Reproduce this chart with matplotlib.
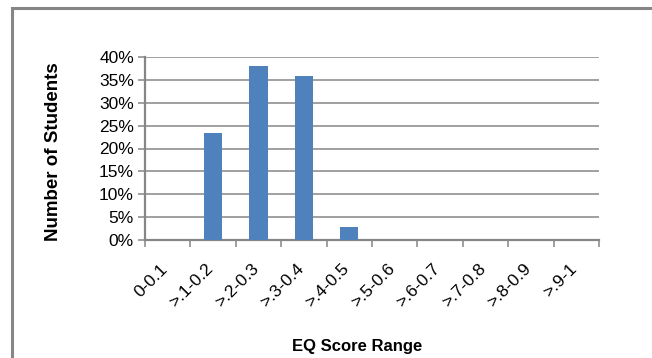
import numpy as np
import matplotlib.pyplot as plt
from matplotlib.patches import Rectangle
from matplotlib.ticker import FixedLocator, PercentFormatter

# EQ score distribution (share of students per range)
ranges = ["0-0.1", ">.1-0.2", ">.2-0.3", ">.3-0.4", ">.4-0.5",
          ">.5-0.6", ">.6-0.7", ">.7-0.8", ">.8-0.9", ">.9-1"]
shares = [0.0, 23.4, 38.0, 35.8, 2.8, 0.0, 0.0, 0.0, 0.0, 0.0]

plt.rcParams['font.family'] = ['Liberation Sans', 'DejaVu Sans']
grey = '#868686'
bar_color = '#4F81BD'

W, H = 652, 358
fig = plt.figure(figsize=(W / 100, H / 100), dpi=100)

# chart-area frame
fig.patches.append(Rectangle((12 / W, -0.1), 1.2, (H - 8) / H + 0.1,
                             transform=fig.transFigure, fill=False,
                             edgecolor=grey, linewidth=2.2))

ax = fig.add_axes([145 / W, 1 - 240 / H, (599 - 145) / W, (240 - 57) / H])
x = np.arange(len(ranges))
ax.bar(x, shares, width=0.4, color=bar_color, zorder=3)

ax.set_xlim(-0.5, len(ranges) - 0.5)
ax.set_ylim(0, 40)
ax.set_yticks(np.arange(0, 41, 5))
ax.yaxis.set_major_formatter(PercentFormatter(decimals=0))
ax.yaxis.grid(True, color=grey, linewidth=1.1)
ax.set_axisbelow(True)

ax.xaxis.set_major_locator(FixedLocator(np.arange(-0.5, len(ranges), 1)))
ax.set_xticklabels([])
ax.xaxis.set_minor_locator(FixedLocator(x - 0.05))
ax.set_xticklabels(ranges, minor=True, rotation=45, ha='right', va='center',
                   rotation_mode='anchor', fontsize=12.5)
ax.tick_params(axis='x', which='minor', length=0, pad=19)
ax.tick_params(axis='x', which='major', length=5, color=grey, width=1.1)
ax.tick_params(axis='y', length=5, color=grey, width=1.1, labelsize=12.5, pad=3)

for side in ['top', 'right']:
    ax.spines[side].set_visible(False)
for side in ['left', 'bottom']:
    ax.spines[side].set_color(grey)
    ax.spines[side].set_linewidth(1.6)

fig.text(54 / W, 1 - 152 / H, 'Number of Students', rotation=90,
         ha='center', va='center', fontsize=13.5, fontweight='bold')
fig.text(357 / W, 1 - 347 / H, 'EQ Score Range', ha='center', va='center',
         fontsize=12, fontweight='bold')

fig.savefig('out.png', dpi=100)
